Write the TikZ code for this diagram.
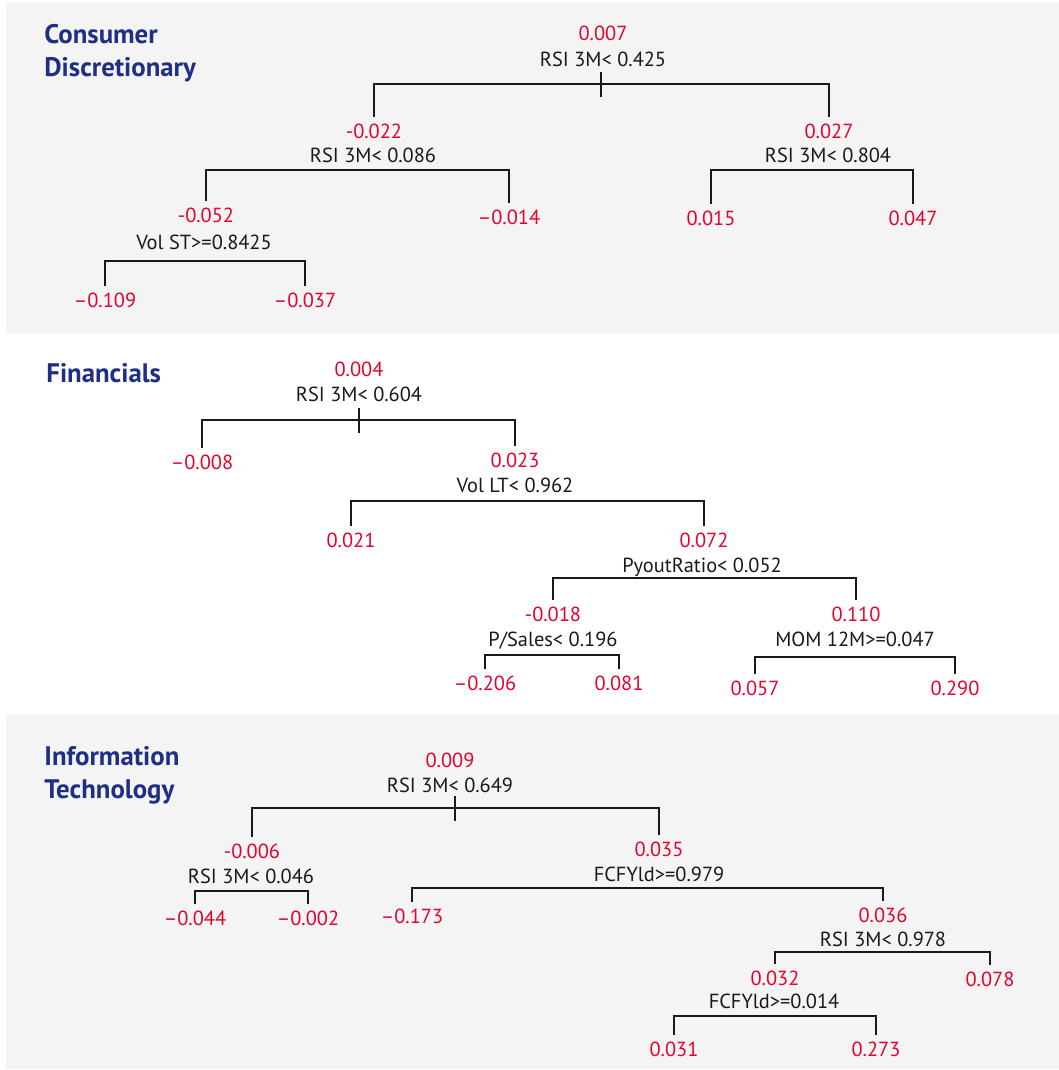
\documentclass[tikz,border=0pt]{standalone}
\usepackage{fontspec}
\setmainfont{PT Sans}
\usepackage{tikz}

\definecolor{valred}{HTML}{E4032C}
\definecolor{titleblue}{HTML}{1F2F86}
\definecolor{panelgrey}{HTML}{F4F4F4}

\tikzset{
  val/.style={text=valred, font=\fontsize{10.2}{12}\selectfont, text height=0.68em, text depth=0pt, inner sep=4pt},
  split/.style={text=black!90, font=\fontsize{10.2}{12}\selectfont, text height=0.68em, text depth=0pt, inner sep=0pt},
  sector/.style={text=titleblue, font=\fontsize{13.4}{16.2}\selectfont\bfseries, align=left, anchor=base west, inner sep=0pt},
  branch/.style={draw=black!90, line width=0.75pt}
}

\begin{document}
\begin{tikzpicture}[x=0.5pt,y=-0.5pt]
  \useasboundingbox (0,0) rectangle (1059,1070);
  \fill[panelgrey] (6,2) rectangle (1059,334);
  \fill[panelgrey] (6,714) rectangle (1059,1069);

  % Consumer Discretionary
  \node[sector] (cdtitle) at (44,76) {Consumer\\Discretionary};
  \node[val] (cd0) at (603,34) {0.007};
  \node[split] (cd0s) at (603,60) {RSI 3M< 0.425};
  \coordinate (cd0h) at (601,84);
  \node[val] (cd1) at (374,132) {-0.022};
  \node[split] (cd1s) at (373,156) {RSI 3M< 0.086};
  \coordinate (cd1h) at (373,170);
  \node[val] (cd2) at (829,132) {0.027};
  \node[split] (cd2s) at (828,156) {RSI 3M< 0.804};
  \coordinate (cd2h) at (828,170);
  \node[val] (cd11) at (206,216) {-0.052};
  \node[split] (cd11s) at (204,243) {Vol ST>=0.8425};
  \coordinate (cd11h) at (204,261);
  \node[val] (cd12) at (509,218) {\textendash0.014};
  \node[val] (cd21) at (711,219) {0.015};
  \node[val] (cd22) at (913,219) {0.047};
  \node[val] (cd111) at (105,301) {\textendash0.109};
  \node[val] (cd112) at (305,301) {\textendash0.037};

  \draw[branch] (cd1.north) |- (cd0h) -| (cd2.north);
  \draw[branch] (cd0h) ++(0,-12) -- ++(0,25);
  \draw[branch] (cd11.north) |- (cd1h) -| (cd12.north);
  \draw[branch] (cd21.north) |- (cd2h) -| (cd22.north);
  \draw[branch] (cd111.north) |- (cd11h) -| (cd112.north);

  % Financials
  \node[sector] (fititle) at (46,382) {Financials};
  \node[val] (fi0) at (359,370) {0.004};
  \node[split] (fi0s) at (359,395) {RSI 3M< 0.604};
  \coordinate (fi0h) at (359,420);
  \node[val] (fi1) at (202,463) {\textendash0.008};
  \node[val] (fi2) at (515,461) {0.023};
  \node[split] (fi2s) at (515,486) {Vol LT< 0.962};
  \coordinate (fi2h) at (515,501);
  \node[val] (fi21) at (351,541) {0.021};
  \node[val] (fi22) at (704,541) {0.072};
  \node[split] (fi22s) at (702,566) {PyoutRatio< 0.052};
  \coordinate (fi22h) at (702,578);
  \node[val] (fi221) at (553,615) {-0.018};
  \node[split] (fi221s) at (553,640) {P/Sales< 0.196};
  \coordinate (fi221h) at (553,655);
  \node[val] (fi222) at (856,615) {0.110};
  \node[split] (fi222s) at (855,640) {MOM 12M>=0.047};
  \coordinate (fi222h) at (855,657);
  \node[val] (fi2211) at (485,684) {\textendash0.206};
  \node[val] (fi2212) at (619,684) {0.081};
  \node[val] (fi2221) at (755,689) {0.057};
  \node[val] (fi2222) at (955,689) {0.290};

  \draw[branch] (fi1.north) |- (fi0h) -| (fi2.north);
  \draw[branch] (fi0h) ++(0,-12) -- ++(0,25);
  \draw[branch] (fi21.north) |- (fi2h) -| (fi22.north);
  \draw[branch] (fi221.north) |- (fi22h) -| (fi222.north);
  \draw[branch] (fi2211.north) |- (fi221h) -| (fi2212.north);
  \draw[branch] (fi2221.north) |- (fi222h) -| (fi2222.north);

  % Information Technology
  \node[sector] (ittitle) at (44,798) {Information\\Technology};
  \node[val] (it0) at (450,761) {0.009};
  \node[split] (it0s) at (450,786) {RSI 3M< 0.649};
  \coordinate (it0h) at (455,808);
  \node[val] (it1) at (252,852) {-0.006};
  \node[split] (it1s) at (251,877) {RSI 3M< 0.046};
  \coordinate (it1h) at (251,891);
  \node[val] (it11) at (195,919) {\textendash0.044};
  \node[val] (it12) at (308,919) {\textendash0.002};
  \node[val] (it2) at (659,850) {0.035};
  \node[split] (it2s) at (659,875) {FCFYld>=0.979};
  \coordinate (it2h) at (659,888);
  \node[val] (it21) at (412,917) {\textendash0.173};
  \node[val] (it22) at (883,916) {0.036};
  \node[split] (it22s) at (883,940) {RSI 3M< 0.978};
  \coordinate (it22h) at (883,952);
  \node[val] (it221) at (775,979) {0.032};
  \node[split] (it221s) at (774,1002) {FCFYld>=0.014};
  \coordinate (it221h) at (774,1016);
  \node[val] (it222) at (990,980) {0.078};
  \node[val] (it2211) at (674,1050) {0.031};
  \node[val] (it2212) at (876,1050) {0.273};

  \draw[branch] (it1.north) |- (it0h) -| (it2.north);
  \draw[branch] (it0h) ++(0,-12) -- ++(0,25);
  \draw[branch] (it11.north) |- (it1h) -| (it12.north);
  \draw[branch] (it21.north) |- (it2h) -| (it22.north);
  \draw[branch] (it221.north) |- (it22h) -| (it222.north);
  \draw[branch] (it2211.north) |- (it221h) -| (it2212.north);
\end{tikzpicture}
\end{document}
